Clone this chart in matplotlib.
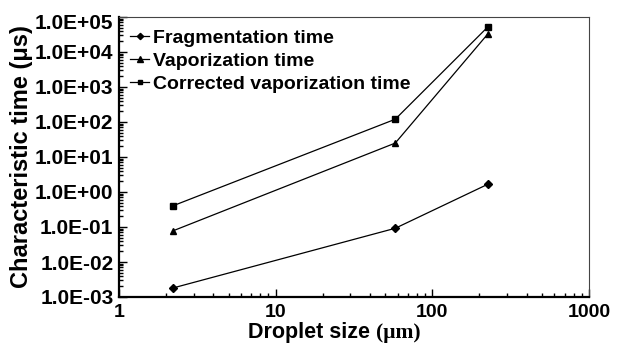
import matplotlib
matplotlib.use("Agg")
import matplotlib.pyplot as plt
import matplotlib.transforms as mtransforms
from matplotlib.ticker import FixedLocator, LogLocator, NullFormatter

plt.rcParams['font.family'] = ['Liberation Sans', 'DejaVu Sans']
plt.rcParams['font.weight'] = 'bold'

# droplet size (um)
sizes = [2.2, 58, 225]
frag_time = [1.8e-3, 9.2e-2, 1.65]
vap_time = [7.7e-2, 25, 3.2e4]
corr_vap_time = [0.40, 120, 5.1e4]

fig = plt.figure(figsize=(6.17, 3.46), dpi=100)
ax = fig.add_axes([119 / 617, 49 / 346, 470 / 617, 280 / 346])

ax.plot(sizes, frag_time, color='black', lw=0.9, marker='D', ms=4, label='Fragmentation time')
ax.plot(sizes, vap_time, color='black', lw=0.9, marker='^', ms=5, label='Vaporization time')
ax.plot(sizes, corr_vap_time, color='black', lw=0.9, marker='s', ms=4, label='Corrected vaporization time')

ax.set_xscale('log')
ax.set_yscale('log')
ax.set_xlim(1, 1000)
ax.set_ylim(1e-3, 1e5)

ax.xaxis.set_major_locator(FixedLocator([1, 10, 100, 1000]))
ax.set_xticklabels(['1', '10', '100', '1000'])
ax.xaxis.set_minor_locator(LogLocator(base=10, subs=range(2, 10), numticks=20))
ax.xaxis.set_minor_formatter(NullFormatter())

yt = [1e-3, 1e-2, 1e-1, 1, 10, 100, 1e3, 1e4, 1e5]
ax.yaxis.set_major_locator(FixedLocator(yt))
ax.set_yticklabels(['1.0E-03', '1.0E-02', '1.0E-01', '1.0E+00', '1.0E+01',
                    '1.0E+02', '1.0E+03', '1.0E+04', '1.0E+05'])
ax.yaxis.set_minor_locator(LogLocator(base=10, subs=range(2, 10), numticks=20))
ax.yaxis.set_minor_formatter(NullFormatter())

ax.tick_params(which='both', direction='in', top=False, right=False, width=1)
ax.tick_params(axis='y', labelsize=15, pad=4)
ax.tick_params(axis='x', labelsize=14, pad=5)
ax.tick_params(which='major', length=6)
ax.tick_params(which='minor', length=3)
for s in ['left', 'bottom']:
    ax.spines[s].set_linewidth(1.6)
for s in ['top', 'right']:
    ax.spines[s].set_linewidth(0.8)
    ax.spines[s].set_color('#444444')

# top label sits a bit lower in the original
fig.canvas.draw()
top_lbl = ax.get_yticklabels()[-1]
top_lbl.set_transform(top_lbl.get_transform() +
                      mtransforms.ScaledTranslation(0, -5 / 100, fig.dpi_scale_trans))

ax.set_ylabel('Characteristic time (μs)', fontsize=17, fontweight='bold', labelpad=1)
fig.text(376 / 617, 3 / 346, 'Droplet size ', fontsize=15.5, fontweight='bold', ha='right', va='bottom')
fig.text(376 / 617, 3 / 346, '(μm)', fontsize=15.5, fontweight='bold', ha='left', va='bottom',
         family=['Liberation Serif', 'DejaVu Serif'])

ax.legend(loc='upper left', bbox_to_anchor=(11 / 470, 1 - 12 / 280), frameon=False, fontsize=14,
          handlelength=1.0, handletextpad=0.2, labelspacing=0.28, borderpad=0,
          borderaxespad=0, markerscale=0.8)

fig.savefig('out.png', dpi=100)
